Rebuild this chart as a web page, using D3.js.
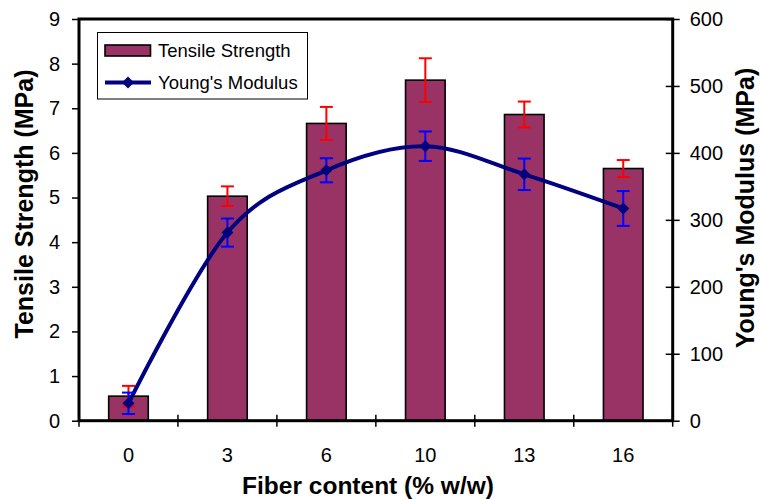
<!DOCTYPE html>
<html>
<head>
<meta charset="utf-8">
<script src="https://cdn.jsdelivr.net/npm/d3@7"></script>
<style>
  html, body { margin: 0; padding: 0; background: #fff; }
  svg { display: block; }
  text { font-family: "Liberation Sans", Arial, Helvetica, sans-serif; fill: #000; }
</style>
</head>
<body>
<svg id="chart" width="760" height="499"></svg>
<script>
// Fiber content categories (% w/w)
const categories = ["0", "3", "6", "10", "13", "16"];
// Tensile strength (MPa), left axis, with standard deviation
const tensile = [0.55, 5.03, 6.66, 7.63, 6.86, 5.65];
const tensileErr = [0.23, 0.22, 0.37, 0.49, 0.29, 0.19];
// Young's modulus (MPa), right axis, with standard deviation
const modulus = [26, 281, 374, 410, 368, 317];
const modulusErr = [16, 21, 18, 22, 23.5, 26];
// Axis ticks
const leftTicks = [0, 1, 2, 3, 4, 5, 6, 7, 8, 9];
const rightTicks = [0, 100, 200, 300, 400, 500, 600];

const svg = d3.select("#chart");
const plot = { left: 79, right: 672.7, top: 19, bottom: 420.7 };

const x = d3.scaleBand()
  .domain(categories)
  .range([plot.left, plot.right])
  .paddingInner(0.6)
  .paddingOuter(0.3);
const step = x.step();
const yL = d3.scaleLinear().domain([0, 9]).range([plot.bottom, plot.top]);
const yR = d3.scaleLinear().domain([0, 600]).range([plot.bottom, plot.top]);

const barColor = "#993366";
const lineColor = "#000080";

// Bars
svg.append("g").selectAll("rect")
  .data(categories)
  .join("rect")
  .attr("x", d => x(d))
  .attr("y", (d, i) => yL(tensile[i]))
  .attr("width", x.bandwidth())
  .attr("height", (d, i) => yL(0) - yL(tensile[i]))
  .attr("fill", barColor)
  .attr("stroke", "#000")
  .attr("stroke-width", 1.6);

// Error bars: vertical whisker with a cap at each end
function errorBars(values, errs, scale, color) {
  const g = svg.append("g").attr("stroke", color).attr("stroke-width", 2).attr("fill", "none");
  const cap = 6.5;
  categories.forEach((c, i) => {
    const cx = x(c) + x.bandwidth() / 2;
    const y1 = scale(values[i] + errs[i]);
    const y2 = scale(values[i] - errs[i]);
    g.append("line").attr("x1", cx).attr("x2", cx).attr("y1", y1).attr("y2", y2);
    g.append("line").attr("x1", cx - cap).attr("x2", cx + cap).attr("y1", y1).attr("y2", y1);
    g.append("line").attr("x1", cx - cap).attr("x2", cx + cap).attr("y1", y2).attr("y2", y2);
  });
}

errorBars(tensile, tensileErr, yL, "#ff0000");

// Young's modulus smoothed line
const line = d3.line()
  .x((d, i) => x(categories[i]) + x.bandwidth() / 2)
  .y(d => yR(d))
  .curve(d3.curveCardinal.tension(0));

svg.append("path")
  .datum(modulus)
  .attr("d", line)
  .attr("fill", "none")
  .attr("stroke", lineColor)
  .attr("stroke-width", 4)
  .attr("stroke-linejoin", "round");

errorBars(modulus, modulusErr, yR, "#0000ff");

const diamond = "M0,-6L6,0L0,6L-6,0Z";
svg.append("g").selectAll("path")
  .data(modulus)
  .join("path")
  .attr("d", diamond)
  .attr("transform", (d, i) => `translate(${x(categories[i]) + x.bandwidth() / 2},${yR(d)})`)
  .attr("fill", lineColor);

// Plot frame
svg.append("rect")
  .attr("x", plot.left).attr("y", plot.top)
  .attr("width", plot.right - plot.left)
  .attr("height", plot.bottom - plot.top)
  .attr("fill", "none")
  .attr("stroke", "#000")
  .attr("stroke-width", 3);

// Left axis
const axL = svg.append("g").attr("transform", `translate(${plot.left},0)`)
  .call(d3.axisLeft(yL).tickValues(leftTicks).tickSize(7).tickPadding(12).tickFormat(d3.format("d")));
axL.select(".domain").remove();
axL.selectAll(".tick line").attr("stroke", "#000").attr("stroke-width", 1.5);
axL.selectAll(".tick text").attr("font-size", 20).attr("font-family", "Liberation Sans, Arial, sans-serif");

// Right axis
const axR = svg.append("g").attr("transform", `translate(${plot.right},0)`)
  .call(d3.axisRight(yR).tickValues(rightTicks).tickSizeInner(7).tickSizeOuter(0).tickPadding(10).tickFormat(d3.format("d")));
axR.select(".domain").remove();
axR.selectAll(".tick line").attr("x1", -7).attr("stroke", "#000").attr("stroke-width", 1.5);
axR.selectAll(".tick text").attr("font-size", 20).attr("font-family", "Liberation Sans, Arial, sans-serif");

// Category axis: ticks between categories, labels centred under bars
svg.append("g").selectAll("line")
  .data(d3.range(categories.length + 1))
  .join("line")
  .attr("x1", i => x(categories[0]) + x.bandwidth() / 2 - step / 2 + i * step)
  .attr("x2", i => x(categories[0]) + x.bandwidth() / 2 - step / 2 + i * step)
  .attr("y1", plot.bottom - 6)
  .attr("y2", plot.bottom + 6)
  .attr("stroke", "#000")
  .attr("stroke-width", 1.5);

svg.append("g").selectAll("text")
  .data(categories)
  .join("text")
  .attr("x", d => x(d) + x.bandwidth() / 2)
  .attr("y", 462)
  .attr("text-anchor", "middle")
  .attr("font-size", 20)
  .text(d => d);

// Axis titles
svg.append("text")
  .attr("x", 368).attr("y", 494)
  .attr("text-anchor", "middle")
  .attr("font-size", 24.5)
  .attr("font-weight", "bold")
  .text("Fiber content (% w/w)");

svg.append("text")
  .attr("transform", "translate(33,204) rotate(-90)")
  .attr("text-anchor", "middle")
  .attr("font-size", 25)
  .attr("font-weight", "bold")
  .text("Tensile Strength (MPa)");

svg.append("text")
  .attr("transform", "translate(754,208) rotate(-90)")
  .attr("text-anchor", "middle")
  .attr("font-size", 25)
  .attr("font-weight", "bold")
  .text("Young's Modulus (MPa)");

// Legend
const lg = svg.append("g");
lg.append("rect")
  .attr("x", 97.5).attr("y", 32.5).attr("width", 210).attr("height", 66.5)
  .attr("fill", "#fff").attr("stroke", "#000").attr("stroke-width", 1);
lg.append("rect")
  .attr("x", 105).attr("y", 45).attr("width", 45.5).attr("height", 11)
  .attr("fill", barColor).attr("stroke", "#000").attr("stroke-width", 1.6);
lg.append("text").attr("x", 158).attr("y", 57).attr("font-size", 18.5).text("Tensile Strength");
lg.append("line")
  .attr("x1", 105).attr("x2", 151).attr("y1", 82.5).attr("y2", 82.5)
  .attr("stroke", lineColor).attr("stroke-width", 4);
lg.append("path").attr("d", diamond).attr("transform", "translate(128,82.5)").attr("fill", lineColor);
lg.append("text").attr("x", 158).attr("y", 89).attr("font-size", 18.5).text("Young's Modulus");
</script>
</body>
</html>
